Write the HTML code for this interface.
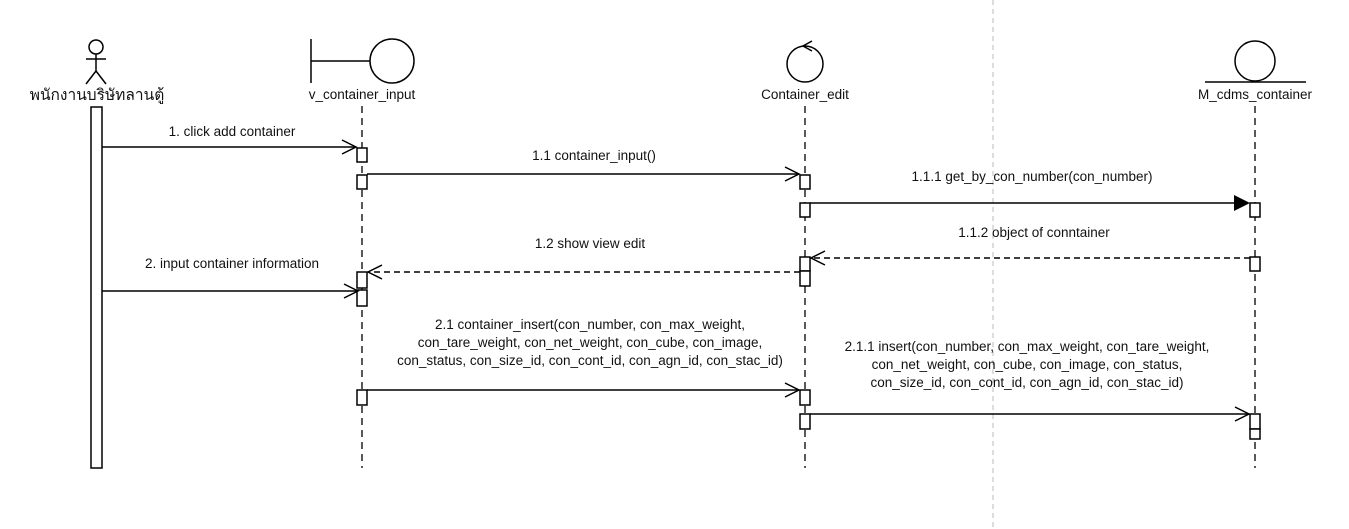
<!DOCTYPE html>
<html><head><meta charset="utf-8"><style>
html,body{margin:0;padding:0;background:#fff;width:1349px;height:529px;overflow:hidden}
text{font-family:"Liberation Sans","Noto Sans CJK SC",sans-serif;font-size:13.5px;fill:#111}
</style></head><body>
<svg width="1349" height="529" viewBox="0 0 1349 529">
<line x1="993" y1="0" x2="993" y2="529" stroke="#bbb" stroke-dasharray="5,4"/>
<g stroke="#000" stroke-width="1.5" fill="none">
<circle cx="96" cy="47" r="7"/><line x1="96" y1="54" x2="96" y2="71"/><line x1="86" y1="59" x2="106" y2="59"/>
<line x1="96" y1="71" x2="86" y2="84"/><line x1="96" y1="71" x2="106" y2="84"/>
</g>
<text x="97" y="100" text-anchor="middle" style="font-size:15.5px">พนักงานบริษัทลานตู้</text>
<rect x="91" y="107" width="11" height="361" fill="#fff" stroke="#000" stroke-width="1.5"/>
<g stroke="#000" stroke-width="1.5" fill="none">
<line x1="311" y1="39" x2="311" y2="83"/><line x1="311" y1="61" x2="370" y2="61"/><circle cx="392" cy="61" r="22"/>
</g>
<text x="362" y="99" text-anchor="middle">v_container_input</text>
<g stroke="#000" stroke-width="1.5" fill="none">
<circle cx="805" cy="64" r="18"/><polyline points="812,41 803,46 812,51"/>
</g>
<text x="805" y="99" text-anchor="middle">Container_edit</text>
<g stroke="#000" stroke-width="1.5" fill="none">
<circle cx="1255" cy="61" r="20"/><line x1="1205" y1="82" x2="1306" y2="82"/>
</g>
<text x="1255" y="99" text-anchor="middle">M_cdms_container</text>
<g stroke="#000" stroke-width="1.3" stroke-dasharray="7,5">
<line x1="362" y1="106" x2="362" y2="468"/><line x1="805" y1="106" x2="805" y2="468"/><line x1="1255" y1="106" x2="1255" y2="468"/>
</g>
<g fill="#fff" stroke="#000" stroke-width="1.5">
<rect x="357" y="148" width="10" height="14"/><rect x="357" y="175" width="10" height="14"/>
<rect x="357" y="272" width="10" height="16"/><rect x="357" y="290" width="10" height="16"/>
<rect x="357" y="390" width="10" height="15"/>
<rect x="800" y="175" width="10" height="14"/><rect x="800" y="203" width="10" height="14"/>
<rect x="800" y="257" width="10" height="14"/><rect x="800" y="271" width="10" height="15"/>
<rect x="800" y="390" width="10" height="15"/><rect x="800" y="414" width="10" height="15"/>
<rect x="1250" y="203" width="10" height="14"/><rect x="1250" y="257" width="10" height="14"/>
<rect x="1250" y="414" width="10" height="15"/><rect x="1250" y="429" width="10" height="10"/>
</g>
<g stroke="#000" stroke-width="1.5" fill="none">
<line x1="102" y1="147" x2="356" y2="147"/><polyline points="342,140 356,147 342,154"/>
<line x1="367" y1="174" x2="799" y2="174"/><polyline points="785,167 799,174 785,181"/>
<line x1="810" y1="203" x2="1236" y2="203"/>
<line x1="1250" y1="258" x2="811" y2="258" stroke-dasharray="6,4"/><polyline points="825,251 811,258 825,265"/>
<line x1="800" y1="272" x2="368" y2="272" stroke-dasharray="6,4"/><polyline points="382,265 368,272 382,279"/>
<line x1="102" y1="291" x2="358" y2="291"/><polyline points="344,284 358,291 344,298"/>
<line x1="367" y1="390" x2="799" y2="390"/><polyline points="785,383 799,390 785,397"/>
<line x1="810" y1="414" x2="1249" y2="414"/><polyline points="1235,407 1249,414 1235,421"/>
</g>
<polygon points="1234,195 1250,203 1234,211" fill="#000"/>
<g text-anchor="middle">
<text x="232" y="136">1. click add container</text>
<text x="594" y="160">1.1 container_input()</text>
<text x="1032" y="181">1.1.1 get_by_con_number(con_number)</text>
<text x="1034" y="237">1.1.2 object of conntainer</text>
<text x="590" y="248">1.2 show view edit</text>
<text x="232" y="268">2. input container information</text>
<text x="590" y="329">2.1 container_insert(con_number, con_max_weight,</text>
<text x="590" y="347">con_tare_weight, con_net_weight, con_cube, con_image,</text>
<text x="590" y="365">con_status, con_size_id, con_cont_id, con_agn_id, con_stac_id)</text>
<text x="1027" y="351">2.1.1 insert(con_number, con_max_weight, con_tare_weight,</text>
<text x="1027" y="369">con_net_weight, con_cube, con_image, con_status,</text>
<text x="1027" y="387">con_size_id, con_cont_id, con_agn_id, con_stac_id)</text>
</g>
</svg>
</body></html>
